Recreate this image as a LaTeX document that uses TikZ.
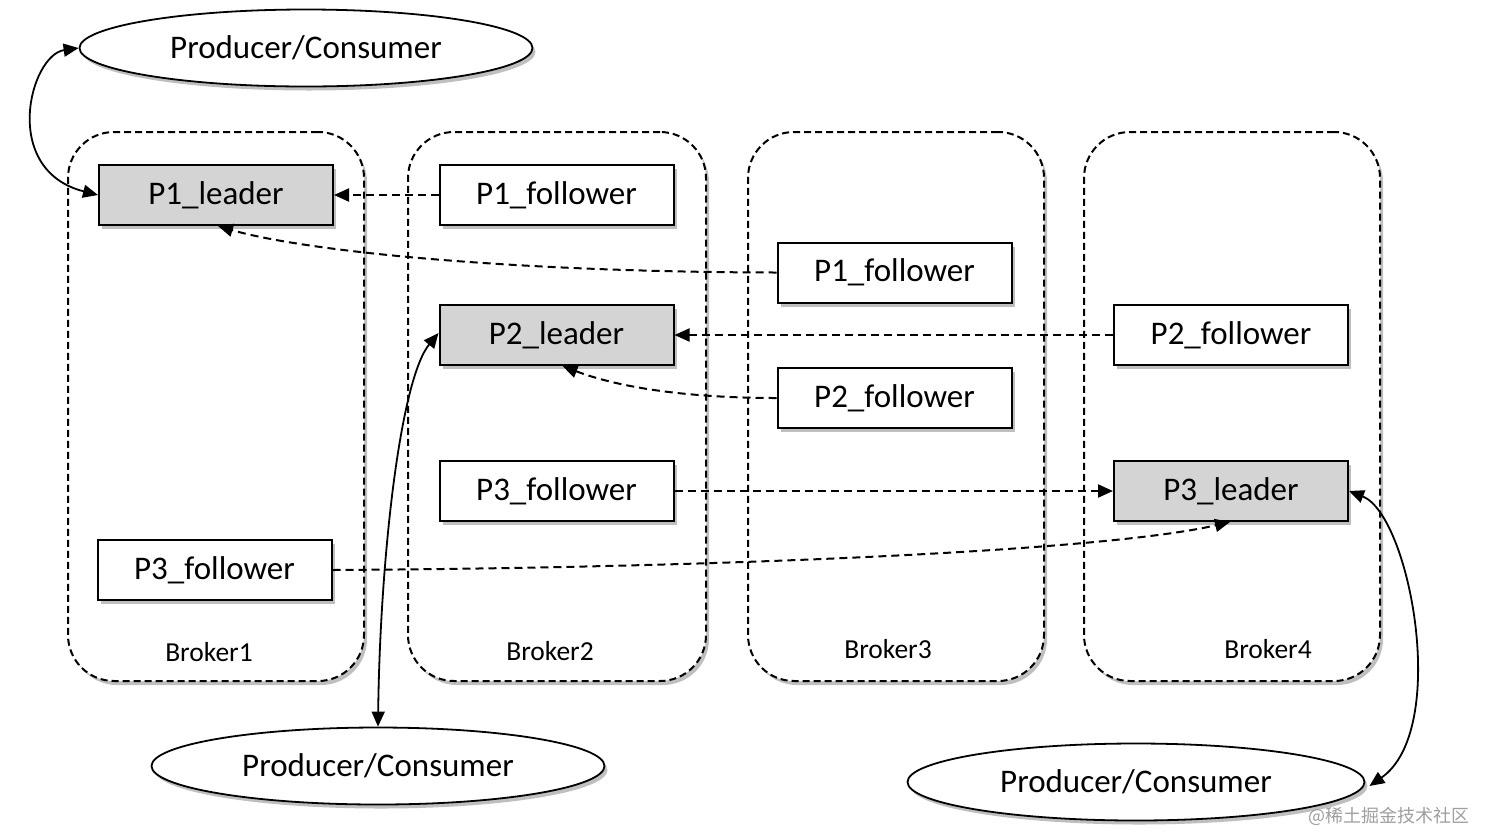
\documentclass[tikz,border=0pt]{standalone}
\usepackage{fontspec}
\setmainfont{Carlito}
\newfontfamily\cjk{Noto Sans CJK SC}
\usetikzlibrary{shapes.geometric,arrows.meta,shadows}
\begin{document}
\begin{tikzpicture}[x=1pt,y=-1pt,
  shade/.style={drop shadow={shadow xshift=3pt,shadow yshift=-4pt,fill=black,opacity=0.25}},
  broker/.style={draw,line width=2pt,dash pattern=on 7pt off 4pt,rounded corners=46pt,
    minimum width=296pt,minimum height=549pt,inner sep=0pt,fill=white,shade},
  part/.style={draw,line width=2pt,minimum width=234pt,minimum height=60pt,inner sep=0pt,
    fill=white,shade,font=\fontsize{33}{36}\selectfont},
  leader/.style={part,fill=black!17},
  client/.style={draw,ellipse,line width=1.8pt,minimum width=453pt,minimum height=77pt,inner sep=0pt,
    fill=white,shade,font=\fontsize{33}{36}\selectfont},
  blabel/.style={font=\fontsize{27.5}{30}\selectfont},
  tip/.style={Triangle[length=15pt,width=13pt]},
  repl/.style={line width=2pt,dash pattern=on 8pt off 5pt,-{Triangle[length=15pt,width=13pt]}},
  io/.style={line width=1.8pt,{Triangle[length=15pt,width=13pt]}-{Triangle[length=15pt,width=13pt]}}]
\useasboundingbox (0,0) rectangle (1488,831);

% brokers
\node[broker] (b1) at (216,406.5) {};
\node[broker,minimum width=298pt] (b2) at (557,406.5) {};
\node[broker] (b3) at (896,406.5) {};
\node[broker] (b4) at (1232,406.5) {};
\node[blabel] (b1l) at (209,652) {Broker1};
\node[blabel] (b2l) at (550,651) {Broker2};
\node[blabel] (b3l) at (888,649) {Broker3};
\node[blabel] (b4l) at (1268,649) {Broker4};

% partitions
\node[leader] (p1l) at (216,195) {P1\_leader};
\node[part] (p1f2) at (556.5,195) {P1\_follower};
\node[part] (p1f3) at (894.5,272.5) {P1\_follower};
\node[leader] (p2l) at (556.5,335) {P2\_leader};
\node[part] (p2f3) at (894.5,398) {P2\_follower};
\node[part] (p2f4) at (1231,335) {P2\_follower};
\node[part] (p3f2) at (556.5,491) {P3\_follower};
\node[leader] (p3l) at (1231,491) {P3\_leader};
\node[part] (p3f1) at (214.5,570) {P3\_follower};

% clients
\node[client] (c1) at (306,48) {Producer/Consumer};
\node[client] (c2) at (378,766) {Producer/Consumer};
\node[client,minimum width=457pt] (c3) at (1136,782) {Producer/Consumer};

% replication
\draw[repl] (p1f2.west) -- (p1l.east);
\draw[repl] (p1f3.west) .. controls (500,272) and (300,250) .. ([xshift=2pt]p1l.south);
\draw[repl] (p2f4.west) -- (p2l.east);
\draw[repl] (p2f3.west) .. controls (690,398) and (620,388) .. ([xshift=6pt]p2l.south);
\draw[repl] (p3f2.east) -- (p3l.west);
\draw[repl] (p3f1.east) .. controls (700,568) and (1100,552) .. ([xshift=-1pt]p3l.south);

% client traffic
\draw[io] (c1.west) .. controls (30,55) and (0,170) .. (p1l.west);
\draw[io] (c2.north) .. controls (380,560) and (400,380) .. ([yshift=2pt]p2l.west);
\draw[io] (p3l.east) .. controls (1410,515) and (1450,730) .. ([xshift=4pt,yshift=-4pt]c3.east);

% site mark
\node[text=black!38,font=\cjk\fontsize{18}{20}\selectfont] (wm) at (1389,816) {@稀土掘金技术社区};
\end{tikzpicture}
\end{document}
